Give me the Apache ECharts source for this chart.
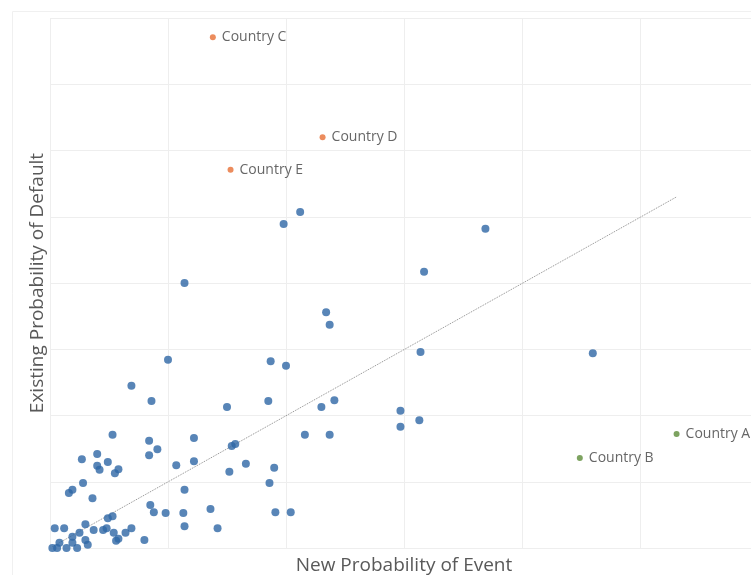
<!DOCTYPE html>
<html><head><meta charset="utf-8">
<script src="https://cdn.jsdelivr.net/npm/echarts@6/dist/echarts.min.js"></script>
<style>html,body{margin:0;padding:0;background:#fff}#c{width:751px;height:575px}</style>
</head><body><div id="c"></div>
<script>
// Other countries (blue)
const otherX = [2.34,2.37,1.00,1.87,2.00,0.69,0.86,1.50,1.85,2.30,2.41,0.53,2.16,2.37,1.22,0.84,0.91,0.27,0.40,0.84,
  0.49,0.40,0.42,0.55,0.58,1.07,1.22,1.54,1.57,1.66,1.52,1.90,1.86,0.28,0.16,0.19,0.36,1.14,0.85,0.88,
  0.98,1.13,1.36,1.91,2.04,1.14,1.42,0.49,0.53,0.04,0.12,0.30,0.25,0.19,0.37,0.45,0.48,0.54,0.64,0.69,
  0.58,0.56,0.80,0.08,0.19,0.30,0.32,0.23,0.14,0.06,0.02,2.12,1.98,1.14,3.69,3.17,3.14,4.60,2.97,3.13,2.97];
const otherY = [3.56,3.37,2.84,2.82,2.75,2.45,2.22,2.13,2.22,2.13,2.23,1.71,1.71,1.71,1.66,1.62,1.49,1.34,1.42,1.40,
  1.30,1.24,1.18,1.13,1.19,1.25,1.31,1.54,1.57,1.27,1.15,1.21,0.98,0.98,0.83,0.88,0.75,0.88,0.65,0.54,
  0.53,0.53,0.59,0.54,0.54,0.33,0.30,0.45,0.48,0.30,0.30,0.36,0.23,0.17,0.27,0.27,0.30,0.23,0.23,0.30,
  0.14,0.11,0.12,0.08,0.08,0.12,0.05,0.00,0.00,0.00,0.00,5.07,4.89,4.00,4.82,4.17,2.96,2.94,2.07,1.93,1.83];
// Highlighted countries above trend (orange)
const highNames = ['Country C','Country D','Country E'];
const highX = [1.38,2.31,1.53];
const highY = [7.71,6.20,5.71];
// Highlighted countries below trend (green)
const lowNames = ['Country A','Country B'];
const lowX = [5.31,4.49];
const lowY = [1.72,1.36];
// Linear trend line end points
const trendX = [0.02,5.31];
const trendY = [0.02,5.30];
const xTitle = 'New Probability of Event';
const yTitle = 'Existing Probability of Default';

const chart = echarts.init(document.getElementById('c'));
const pts = (xs, ys) => xs.map((x,i)=>[x, ys[i]]);
const named = (ns, xs, ys) => ns.map((n,i)=>({name:n, value:[xs[i], ys[i]]}));
const font = '"Open Sans", sans-serif';
const split = {show:true, lineStyle:{color:'#eeeeee', width:1}};
const lbl = {show:true, position:'right', distance:6, formatter:'{b}', color:'#404040', fontSize:14, fontFamily:font};
chart.setOption({
  animation:false,
  backgroundColor:'#fff',
  graphic:[{type:'rect', left:10, top:9, shape:{width:800, height:600}, style:{fill:'none', stroke:'#f0f0f0', lineWidth:1}, silent:true, z:-10}],
  grid:{left:50, top:18, width:708, height:530, containLabel:false, outerBoundsMode:'none'},
  xAxis:{type:'value', min:0, max:6, interval:1,
    name:xTitle, nameLocation:'middle', nameGap:8,
    nameTextStyle:{color:'#595959', fontSize:19, fontFamily:font, verticalAlign:'top'},
    axisLine:{show:false}, axisTick:{show:false}, axisLabel:{show:false}, splitLine:split},
  yAxis:{type:'value', min:0, max:8, interval:1,
    name:yTitle, nameLocation:'middle', nameGap:3, nameRotate:90,
    nameTextStyle:{color:'#595959', fontSize:19, fontFamily:font, verticalAlign:'bottom'},
    axisLine:{show:false}, axisTick:{show:false}, axisLabel:{show:false}, splitLine:split},
  series:[
    {type:'line', data:pts(trendX, trendY), symbol:'none', silent:true,
      lineStyle:{color:'#8c8c8c', width:1, type:[1,1]}, z:1},
    {type:'scatter', data:pts(otherX, otherY), symbolSize:8, itemStyle:{color:'#2e67a5'}, z:3, clip:false},
    {type:'scatter', data:named(highNames, highX, highY), symbolSize:6, itemStyle:{color:'#e76f35'}, z:3, clip:false, label:lbl},
    {type:'scatter', data:named(lowNames, lowX, lowY), symbolSize:6, itemStyle:{color:'#5c8c38'}, z:3, clip:false, label:lbl}
  ]
});
</script></body></html>
